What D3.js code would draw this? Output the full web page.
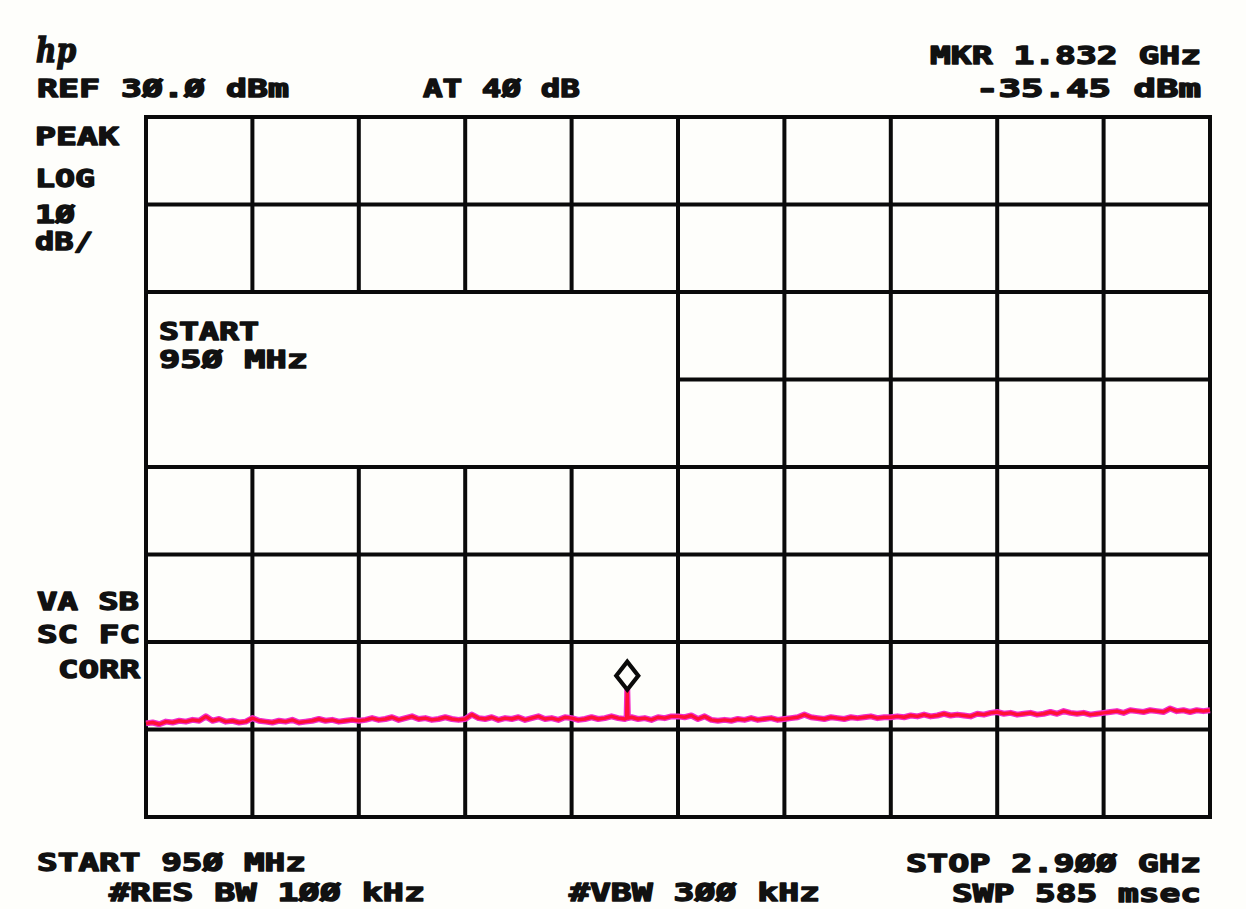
<!DOCTYPE html>
<html>
<head>
    <title>HP spectrum analyzer plot</title>
    <script src="https://d3js.org/d3.v7.min.js"></script>
    <style>
    body { margin:0; background:#fefefb; }
    svg { display:block; }
    .plotter { font-family:"DejaVu Sans Mono", monospace; font-weight:bold; font-size:25px; fill:#111; stroke:#111; stroke-width:1.4; stroke-linejoin:round; }
    </style>
</head>
<body>
</body>
<script type="text/javascript">

// sweep settings (MHz) and amplitude scale
const sweepStart = 950;
const sweepStop = 2900;
const refLevel = 30;      // dBm, top of screen
const dbPerDiv = 10;
const hDivs = 10;
const vDivs = 8;

// trace, dBm, 161 points evenly across the sweep
const traceLevels = [
    -39.3,-39.2,-39.4,-39.1,-39.2,-39.0,-39.1,-38.9,-39.0,-38.5,-39.0,-38.8,-39.1,-39.0,-39.2,-39.1,
    -38.7,-39.0,-39.1,-39.2,-39.0,-39.1,-38.9,-39.2,-39.1,-39.0,-38.8,-39.0,-38.9,-39.1,-39.0,-38.9,
    -39.0,-38.9,-38.7,-38.9,-38.8,-38.6,-38.9,-38.7,-38.5,-38.8,-38.7,-38.9,-38.8,-38.6,-38.8,-38.9,
    -38.8,-38.3,-38.7,-38.8,-38.6,-38.9,-38.7,-38.8,-38.6,-38.9,-38.7,-38.5,-38.8,-38.7,-38.9,-38.6,
    -38.7,-38.9,-38.8,-38.6,-38.8,-38.7,-38.5,-38.7,-38.8,-38.6,-38.8,-38.7,-38.9,-38.6,-38.7,-38.5,
    -38.5,-38.6,-38.4,-38.8,-38.5,-38.9,-39.0,-38.9,-39.0,-38.8,-38.9,-38.7,-38.9,-38.8,-38.7,-38.9,
    -38.8,-38.7,-38.6,-38.3,-38.6,-38.7,-38.8,-38.6,-38.7,-38.8,-38.6,-38.7,-38.6,-38.5,-38.7,-38.6,
    -38.6,-38.5,-38.6,-38.4,-38.5,-38.3,-38.5,-38.4,-38.2,-38.4,-38.3,-38.4,-38.5,-38.2,-38.3,-38.1,
    -38.0,-38.2,-38.1,-38.3,-38.2,-38.1,-38.3,-38.2,-38.0,-38.2,-37.9,-38.1,-38.2,-38.1,-38.3,-38.2,
    -38.1,-38.0,-37.9,-38.1,-37.8,-37.9,-38.0,-37.8,-37.9,-38.0,-37.6,-37.9,-37.8,-38.0,-37.8,-37.9,
    -37.8
];

// narrow spike at the marker
const peakFreqs = [1830.8, 1832, 1833.2];
const peakLevels = [-38.7, -35.45, -38.7];

const markerFreq = 1832;
const markerLevel = -35.45;

// screen annotations
const readouts = [
    "REF 3Ø.Ø dBm", "AT 4Ø dB", "MKR 1.832 GHz", "-35.45 dBm",
    "PEAK", "LOG", "1Ø", "dB/",
    "START", "95Ø MHz",
    "VA SB", "SC FC", "CORR",
    "START 95Ø MHz", "#RES BW 1ØØ kHz", "#VBW 3ØØ kHz", "STOP 2.9ØØ GHz", "SWP 585 msec"
];
// left, right, baseline
const readoutPos = [
    [37,289,97], [423,580,97], [930,1201,64], [976,1201,97],
    [35,119,145], [35,95,187], [35,75,223], [35,93,250],
    [159,259,340], [159,308,368],
    [37,139,610], [37,140,643], [58,140,678],
    [37,306,871], [109,425,901], [569,820,901], [906,1201,872], [952,1201,902]
];

const width = 1246, height = 909;
const plot = {left:146, right:1210, top:117, bottom:817};

const svg = d3.select("body").append("svg")
    .attr("width", width)
    .attr("height", height);

svg.append("rect").attr("width", width).attr("height", height).attr("fill", "#fefefb");

const x = d3.scaleLinear().domain([sweepStart, sweepStop]).range([plot.left, plot.right]);
const y = d3.scaleLinear().domain([refLevel - dbPerDiv * vDivs, refLevel]).range([plot.bottom, plot.top]);

const xDiv = d3.range(hDivs + 1).map(i => sweepStart + i * (sweepStop - sweepStart) / hDivs);
const yDiv = d3.range(vDivs + 1).map(i => refLevel - i * dbPerDiv);

//graticule
const grid = svg.append("g")
    .attr("stroke", "#0a0a0a")
    .attr("stroke-width", 4)
    .attr("stroke-linecap", "square");

grid.selectAll(".v").data(xDiv).join("line")
    .attr("class", "v")
    .attr("x1", d => x(d)).attr("x2", d => x(d))
    .attr("y1", y.range()[1]).attr("y2", y.range()[0]);

grid.selectAll(".h").data(yDiv).join("line")
    .attr("class", "h")
    .attr("y1", d => y(d)).attr("y2", d => y(d))
    .attr("x1", x.range()[0]).attr("x2", x.range()[1]);

// start frequency window that covers part of the graticule
svg.append("rect")
    .attr("x", x(xDiv[0]))
    .attr("y", y(yDiv[2]))
    .attr("width", x(xDiv[5]) - x(xDiv[0]))
    .attr("height", y(yDiv[4]) - y(yDiv[2]))
    .attr("fill", "#fefefb")
    .attr("stroke", "#0a0a0a")
    .attr("stroke-width", 4);

// trace
const step = (sweepStop - sweepStart) / (traceLevels.length - 1);
let trace = traceLevels.map((v, i) => ({f: sweepStart + i * step, v: v}));
peakFreqs.forEach((f, i) => trace.push({f: f, v: peakLevels[i]}));
trace.sort((a, b) => a.f - b.f);

const line = d3.line().x(d => x(d.f)).y(d => y(d.v));

svg.append("path").datum(trace)
    .attr("d", line)
    .attr("fill", "none")
    .attr("stroke", "#f22ccc")
    .attr("stroke-width", 6)
    .attr("stroke-linejoin", "round");
svg.append("path").datum(trace)
    .attr("d", line)
    .attr("fill", "none")
    .attr("stroke", "#ff1036")
    .attr("stroke-width", 3.4)
    .attr("stroke-linejoin", "round");

// marker diamond sitting on the peak
const mx = x(markerFreq), my = y(markerLevel);
svg.append("path")
    .attr("d", `M${mx},${my} L${mx + 11},${my - 14} L${mx},${my - 28} L${mx - 11},${my - 14} Z`)
    .attr("fill", "none")
    .attr("stroke", "#0a0a0a")
    .attr("stroke-width", 4.2)
    .attr("stroke-linejoin", "miter");

// hp logo
svg.append("text")
    .attr("x", 36).attr("y", 62)
    .attr("font-family", "DejaVu Serif")
    .attr("font-weight", "bold")
    .attr("font-style", "italic")
    .attr("font-size", 34)
    .attr("fill", "#111")
    .attr("stroke", "#111")
    .attr("stroke-width", 1.5)
    .attr("textLength", 40)
    .attr("lengthAdjust", "spacingAndGlyphs")
    .text("hp");

// readouts
svg.append("g").attr("class", "plotter")
    .selectAll("text").data(readouts).join("text")
    .attr("x", (d, i) => readoutPos[i][0])
    .attr("y", (d, i) => readoutPos[i][2])
    .attr("textLength", (d, i) => readoutPos[i][1] - readoutPos[i][0])
    .attr("lengthAdjust", "spacingAndGlyphs")
    .text(d => d);

</script>
</html>
